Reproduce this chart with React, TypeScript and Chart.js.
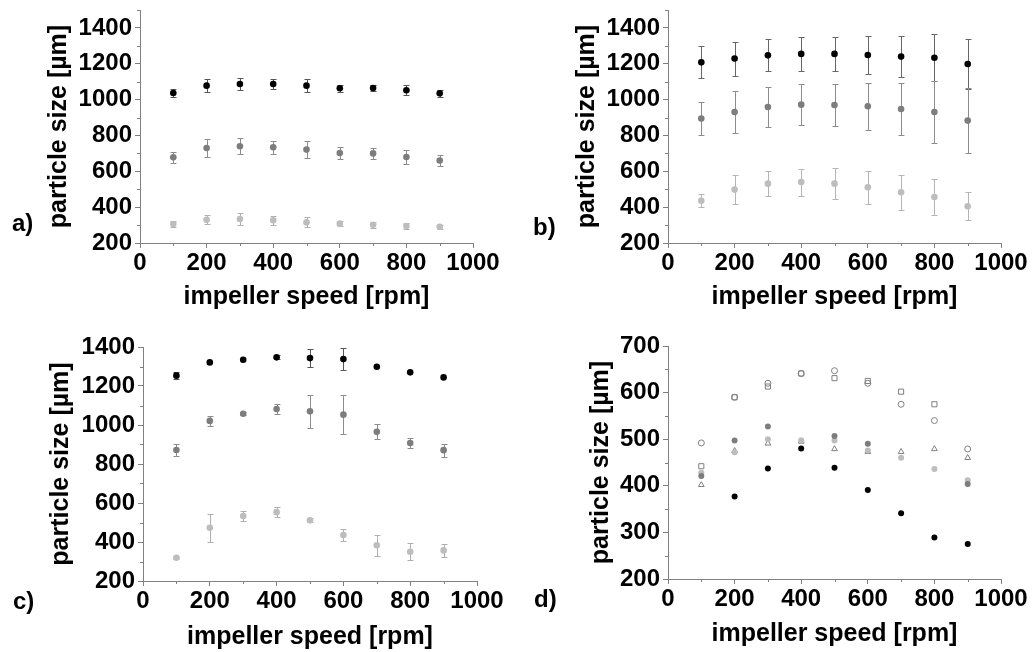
import React, { useEffect, useRef } from 'react';
import { Chart, registerables } from 'chart.js';

Chart.register(...registerables);

const FONT = "'Liberation Sans', Arial, Helvetica, sans-serif";

// ---------- data ----------
const speeds = [100, 200, 300, 400, 500, 600, 700, 800, 900];

// panel a
const aBlack = [1037, 1078, 1087, 1087, 1078, 1063, 1065, 1052, 1035];
const aBlackErr = [20, 37, 33, 26, 38, 18, 16, 28, 20];
const aMid = [678, 730, 740, 734, 721, 702, 700, 680, 660];
const aMidErr = [30, 50, 45, 35, 47, 32, 31, 38, 33];
const aLight = [306, 330, 334, 327, 315, 308, 302, 295, 291];
const aLightErr = [15, 26, 33, 25, 28, 15, 17, 15, 12];

// panel b
const bBlack = [1208, 1229, 1247, 1255, 1255, 1249, 1240, 1234, 1199];
const bBlackErr = [90, 95, 90, 93, 97, 106, 114, 130, 140];
const bMid = [894, 931, 959, 972, 970, 963, 948, 931, 883];
const bMidErr = [93, 119, 113, 115, 119, 130, 144, 171, 180];
const bLight = [436, 498, 531, 540, 531, 511, 483, 457, 405];
const bLightErr = [35, 81, 70, 75, 86, 92, 97, 100, 79];

// panel c
const cBlack = [1253, 1321, 1335, 1347, 1343, 1338, 1299, 1270, 1244];
const cBlackErr = [19, 0, 0, 10, 45, 55, 0, 0, 0];
const cMid = [872, 1021, 1058, 1082, 1070, 1053, 965, 908, 871];
const cMidErr = [32, 27, 8, 28, 85, 100, 38, 24, 34];
const cLight = [319, 473, 533, 553, 511, 436, 383, 350, 357];
const cLightErr = [5, 73, 26, 26, 10, 32, 54, 43, 35];

// panel d
const dBlack = [null, 377, 437, 480, 439, 391, 341, 289, 275];
const dDark = [421, 497, 527, null, 507, 490, null, null, 404];
const dLight = [428, 472, 500, 498, 497, 476, 460, 436, 412];
const dCircle = [492, 590, 620, 641, 647, 620, 575, 540, 479];
const dSquare = [442, 590, 613, 641, 631, 625, 602, 575, null];
const dTriangle = [402, 475, 491, 495, 479, 473, 473, 479, 460];

const xTicksMin = 0;
const xTicksMax = 1000;

// ---------- plugins ----------
const errorBarPlugin = {
  id: 'errorBars',
  beforeDatasetsDraw(chart: any) {
    const ctx = chart.ctx;
    const xs = chart.scales.x;
    const ys = chart.scales.y;
    chart.data.datasets.forEach((ds: any) => {
      if (!ds.errors) return;
      ctx.save();
      ctx.strokeStyle = ds.errColor;
      ctx.lineWidth = 1;
      ds.data.forEach((p: any, i: number) => {
        const e = ds.errors[i];
        if (!e || p.y == null) return;
        const px = Math.round(xs.getPixelForValue(p.x)) + 0.5;
        const top = Math.round(ys.getPixelForValue(p.y + e)) + 0.5;
        const bot = Math.round(ys.getPixelForValue(p.y - e)) + 0.5;
        ctx.beginPath();
        ctx.moveTo(px, top);
        ctx.lineTo(px, bot);
        ctx.moveTo(px - 3, top);
        ctx.lineTo(px + 3, top);
        ctx.moveTo(px - 3, bot);
        ctx.lineTo(px + 3, bot);
        ctx.stroke();
      });
      ctx.restore();
    });
  },
};

const minorTickPlugin = {
  id: 'minorTicks',
  afterDraw(chart: any) {
    const opts = chart.options.plugins.minorTicks;
    if (!opts) return;
    const ctx = chart.ctx;
    const xs = chart.scales.x;
    const ys = chart.scales.y;
    ctx.save();
    ctx.strokeStyle = '#808080';
    ctx.lineWidth = 1;
    ctx.beginPath();
    for (let v = xs.min + opts.x; v < xs.max; v += opts.x * 2) {
      const px = Math.round(xs.getPixelForValue(v)) + 0.5;
      ctx.moveTo(px, ys.bottom);
      ctx.lineTo(px, ys.bottom + 3);
    }
    for (let v = ys.min + opts.y; v <= ys.max + 0.01; v += opts.y * 2) {
      const py = Math.round(ys.getPixelForValue(v)) + 0.5;
      ctx.moveTo(xs.left, py);
      ctx.lineTo(xs.left - 3, py);
    }
    ctx.stroke();
    ctx.restore();
  },
};

// ---------- helpers ----------
const pts = (vals: (number | null)[]) =>
  speeds.map((s, i) => ({ x: s, y: vals[i] }));

function dot(vals: (number | null)[], color: string, errors?: number[], errColor?: string, radius = 3.3) {
  return {
    data: pts(vals),
    errors,
    errColor,
    pointStyle: 'circle',
    pointRadius: radius,
    pointBackgroundColor: color,
    pointBorderColor: color,
    pointBorderWidth: 0,
    showLine: false,
  };
}

function openMarker(vals: (number | null)[], style: string, radius: number) {
  return {
    data: pts(vals),
    pointStyle: style,
    pointRadius: radius,
    pointBackgroundColor: 'rgba(255,255,255,0)',
    pointBorderColor: '#7f7f7f',
    pointBorderWidth: 1,
    showLine: false,
  };
}

type PanelCfg = {
  left: number;
  top: number;
  yMin: number;
  yMax: number;
  yStep: number;
  area: { l: number; r: number; t: number; b: number };
  yTitlePad: number;
  xTitlePad: number;
  datasets: any[];
};

const W = 516;
const H = 326;

const plainNumber = (v: any) => String(v);

function Panel({ cfg }: { cfg: PanelCfg }) {
  const ref = useRef<HTMLCanvasElement | null>(null);
  useEffect(() => {
    if (!ref.current) return;
    const tickFont = { family: FONT, size: 24, weight: 'bold' as const };
    const titleFont = { family: FONT, size: 25, weight: 'bold' as const };
    const chart = new Chart(ref.current, {
      type: 'scatter',
      data: { datasets: cfg.datasets },
      plugins: [errorBarPlugin, minorTickPlugin],
      options: {
        responsive: false,
        animation: false,
        events: [],
        layout: {
          padding: { left: 0, top: cfg.area.t, right: W - cfg.area.r, bottom: 0 },
        },
        plugins: {
          legend: { display: false },
          tooltip: { enabled: false },
          minorTicks: { x: 100, y: cfg.yStep / 2 },
        } as any,
        scales: {
          x: {
            type: 'linear',
            min: xTicksMin,
            max: xTicksMax,
            ticks: {
              stepSize: 200,
              font: tickFont,
              color: '#000',
              padding: 1,
              maxRotation: 0,
              autoSkip: false,
              callback: plainNumber,
            },
            grid: { drawOnChartArea: false, tickLength: 5, tickColor: '#808080' },
            border: { color: '#808080', width: 1 },
            title: {
              display: true,
              text: 'impeller speed [rpm]',
              font: titleFont,
              color: '#000',
              padding: { top: 0, bottom: cfg.xTitlePad },
            },
            afterFit: (s: any) => {
              s.height = H - cfg.area.b;
              s.paddingLeft = 0;
              s.paddingRight = 0;
            },
          },
          y: {
            type: 'linear',
            min: cfg.yMin,
            max: cfg.yMax,
            ticks: {
              stepSize: cfg.yStep,
              includeBounds: false,
              font: tickFont,
              color: '#000',
              padding: 3,
              autoSkip: false,
              callback: plainNumber,
            },
            grid: { drawOnChartArea: false, tickLength: 5, tickColor: '#808080' },
            border: { color: '#808080', width: 1 },
            title: {
              display: true,
              text: 'particle size [µm]',
              font: titleFont,
              color: '#000',
              padding: { top: cfg.yTitlePad, bottom: 0 },
            },
            afterFit: (s: any) => {
              s.width = cfg.area.l;
              s.paddingTop = 0;
              s.paddingBottom = 0;
            },
          },
        } as any,
      },
    } as any);
    return () => chart.destroy();
  }, [cfg]);
  return (
    <canvas
      ref={ref}
      width={W}
      height={H}
      style={{ position: 'absolute', left: cfg.left, top: cfg.top, width: W, height: H }}
    />
  );
}

const BLACK = '#000000';
const MID = '#7d7d7d';
const LIGHT = '#bdbdbd';

const panels: PanelCfg[] = [
  {
    left: 0,
    top: 0,
    yMin: 200,
    yMax: 1500,
    yStep: 200,
    area: { l: 140, r: 473, t: 10, b: 243 },
    yTitlePad: 44,
    xTitlePad: 14,
    datasets: [
      dot(aBlack, BLACK, aBlackErr, '#555555'),
      dot(aMid, MID, aMidErr, '#8c8c8c'),
      dot(aLight, LIGHT, aLightErr, '#b0b0b0'),
    ],
  },
  {
    left: 516,
    top: 0,
    yMin: 200,
    yMax: 1500,
    yStep: 200,
    area: { l: 152, r: 485, t: 10, b: 243 },
    yTitlePad: 56,
    xTitlePad: 14,
    datasets: [
      dot(bBlack, BLACK, bBlackErr, '#666666'),
      dot(bMid, MID, bMidErr, '#8c8c8c'),
      dot(bLight, LIGHT, bLightErr, '#b5b5b5'),
    ],
  },
  {
    left: 0,
    top: 326,
    yMin: 200,
    yMax: 1400,
    yStep: 200,
    area: { l: 143, r: 477, t: 21, b: 255 },
    yTitlePad: 46,
    xTitlePad: 0,
    datasets: [
      dot(cBlack, BLACK, cBlackErr, '#555555'),
      dot(cMid, MID, cMidErr, '#8c8c8c'),
      dot(cLight, LIGHT, cLightErr, '#b0b0b0'),
    ],
  },
  {
    left: 516,
    top: 326,
    yMin: 200,
    yMax: 700,
    yStep: 100,
    area: { l: 152, r: 485, t: 20, b: 253 },
    yTitlePad: 70,
    xTitlePad: 3,
    datasets: [
      dot(dBlack, BLACK, undefined, undefined, 3),
      dot(dDark, MID, undefined, undefined, 3),
      dot(dLight, LIGHT, undefined, undefined, 3),
      openMarker(dCircle, 'circle', 3),
      openMarker(dSquare, 'rect', 3.6),
      openMarker(dTriangle, 'triangle', 3.3),
    ],
  },
];

const panelLabels = [
  { text: 'a)', left: 12, top: 211 },
  { text: 'b)', left: 533, top: 215 },
  { text: 'c)', left: 13, top: 589 },
  { text: 'd)', left: 534, top: 587 },
];

export default function App() {
  return (
    <div
      style={{
        position: 'fixed',
        left: 0,
        top: 0,
        width: 1032,
        height: 652,
        background: '#fff',
        overflow: 'hidden',
      }}
    >
      {panels.map((p, i) => (
        <Panel key={i} cfg={p} />
      ))}
      {panelLabels.map((l) => (
        <div
          key={l.text}
          style={{
            position: 'absolute',
            left: l.left,
            top: l.top,
            fontFamily: FONT,
            fontWeight: 'bold',
            fontSize: 24,
            lineHeight: '24px',
            color: '#000',
          }}
        >
          {l.text}
        </div>
      ))}
    </div>
  );
}
